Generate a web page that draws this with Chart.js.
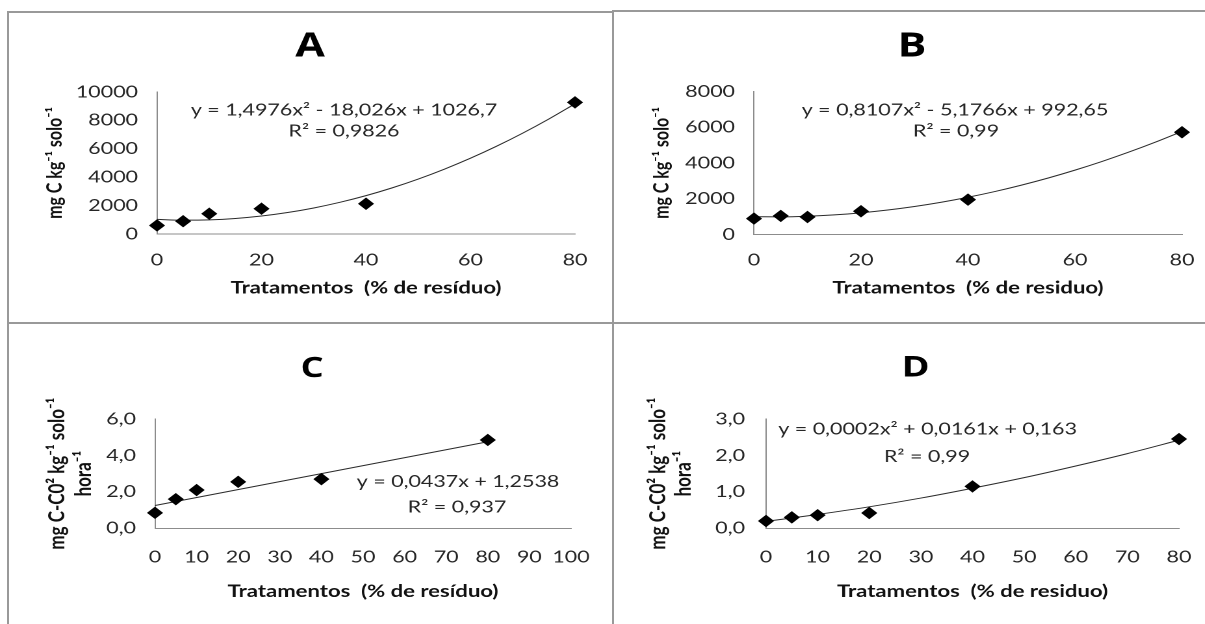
<!DOCTYPE html>
<html>
<head>
<meta charset="utf-8">
<script src="https://cdn.jsdelivr.net/npm/chart.js@4.4.1/dist/chart.umd.min.js"></script>
<style>
html,body{margin:0;padding:0;background:#fff;width:1205px;height:624px;overflow:hidden;position:relative;}
.wrap{position:absolute;transform-origin:0 0;}
.wrap canvas{display:block;}
.line{position:absolute;background:#999;z-index:5;}
</style>
</head>
<body>
<div class="wrap" id="wA"><canvas id="cA"></canvas></div>
<div class="wrap" id="wB"><canvas id="cB"></canvas></div>
<div class="wrap" id="wC"><canvas id="cC"></canvas></div>
<div class="wrap" id="wD"><canvas id="cD"></canvas></div>
<div class="line" style="left:7px;top:11px;width:606px;height:2px;"></div>
<div class="line" style="left:612px;top:10px;width:593px;height:2px;"></div>
<div class="line" style="left:7px;top:11px;width:2px;height:613px;"></div>
<div class="line" style="left:612px;top:10px;width:2px;height:614px;"></div>
<div class="line" style="left:7px;top:322px;width:1198px;height:2px;"></div>
<script>
// ---------- data ----------
const xTreat = [0, 5, 10, 20, 40, 80];
const yA = [600, 900, 1430, 1780, 2130, 9270];
const yB = [890, 1040, 980, 1300, 1950, 5720];
const yC = [0.85, 1.6, 2.1, 2.55, 2.7, 4.85];
const yD = [0.2, 0.3, 0.36, 0.42, 1.15, 2.45];

const trendXAB = [0, 5, 10, 15, 20, 25, 30, 35, 40, 45, 50, 55, 60, 65, 70, 75, 80];
const trendA = [1027, 974, 996, 1093, 1265, 1512, 1834, 2230, 2702, 3248, 3869, 4566, 5337, 6182, 7103, 8099, 9169];
const trendB = [993, 987, 1022, 1097, 1213, 1370, 1567, 1805, 2083, 2401, 2761, 3160, 3601, 4081, 4603, 5165, 5767];
const trendXC = [0, 80];
const trendC = [1.25, 4.75];
const trendXD = [0, 10, 20, 30, 40, 50, 60, 70, 80];
const trendD = [0.19, 0.38, 0.59, 0.83, 1.10, 1.39, 1.71, 2.05, 2.42];

const panelTitles = ['A', 'B', 'C', 'D'];
const eqA = ['y = 1,4976x² - 18,026x + 1026,7', 'R² = 0,9826'];
const eqB = ['y = 0,8107x² - 5,1766x + 992,65', 'R² = 0,99'];
const eqC = ['y = 0,0437x + 1,2538', 'R² = 0,937'];
const eqD = ['y = 0,0002x² + 0,0161x + 0,163', 'R² = 0,99'];

const xTickLabelsAB = ['0', '20', '40', '60', '80'];
const xTickLabelsC = ['0', '10', '20', '30', '40', '50', '60', '70', '80', '90', '100'];
const xTickLabelsD = ['0', '10', '20', '30', '40', '50', '60', '70', '80'];
const yTickLabelsA = ['0', '2000', '4000', '6000', '8000', '10000'];
const yTickLabelsB = ['0', '2000', '4000', '6000', '8000'];
const yTickLabelsC = ['0,0', '2,0', '4,0', '6,0'];
const yTickLabelsD = ['0,0', '1,0', '2,0', '3,0'];

const xTitleAccent = 'Tratamentos  (% de resíduo)';
const xTitlePlain = 'Tratamentos  (% de residuo)';
const yTitleAB = 'mg C kg⁻¹ solo⁻¹';
const yTitleCD = ['mg C-C0² kg⁻¹ solo⁻¹', 'hora⁻¹'];

// ---------- layout (reference pixels, panel-local) ----------
const FONT = 'Lato, "Open Sans", sans-serif';
const TITLE_FONT = '"Liberation Sans Narrow", "Open Sans", Lato, sans-serif';
const panels = [
  {el: 'A', left: 0, top: 0, w: 612, h: 322, cw: 471,
   xs: xTreat, ys: yA, tx: trendXAB, ty: trendA, title: panelTitles[0], eq: eqA,
   xMax: 80, xStep: 20, xLabels: xTickLabelsAB, yMax: 10000, yStep: 2000, yLabels: yTickLabelsA,
   xTitle: xTitleAccent, yTitle: yTitleAB,
   area: {l: 157, r: 575, t: 92, b: 234}, titleX: 310, titleY: 47, titleSize: 33,
   yTitleX: 55, yTitleSize: 16, yTitleLH: 1.0, yTickPad: 19,
   xTickY: 260, xTitleY: 288, eqPos: [[344, 110], [344, 131]]},
  {el: 'B', left: 612, top: 0, w: 593, h: 322, cw: 456,
   xs: xTreat, ys: yB, tx: trendXAB, ty: trendB, title: panelTitles[1], eq: eqB,
   xMax: 80, xStep: 20, xLabels: xTickLabelsAB, yMax: 8000, yStep: 2000, yLabels: yTickLabelsB,
   xTitle: xTitlePlain, yTitle: yTitleAB,
   area: {l: 142, r: 570, t: 91.5, b: 234.5}, titleX: 300, titleY: 47, titleSize: 33,
   yTitleX: 50, yTitleSize: 16, yTitleLH: 1.0, yTickPad: 19,
   xTickY: 260, xTitleY: 288, eqPos: [[343, 110], [344, 131]]},
  {el: 'C', left: 0, top: 322, w: 612, h: 302, cw: 471,
   xs: xTreat, ys: yC, tx: trendXC, ty: trendC, title: panelTitles[2], eq: eqC,
   xMax: 100, xStep: 10, xLabels: xTickLabelsC, yMax: 6, yStep: 2, yLabels: yTickLabelsC,
   xTitle: xTitleAccent, yTitle: yTitleCD,
   area: {l: 155, r: 571, t: 97, b: 206.3}, titleX: 312, titleY: 47, titleSize: 28,
   yTitleX: 57, yTitleSize: 17, yTitleLH: 1.2, yTickPad: 19,
   xTickY: 235.3, xTitleY: 269.7, eqPos: [[458, 159.7], [457, 185]]},
  {el: 'D', left: 612, top: 322, w: 593, h: 302, cw: 456,
   xs: xTreat, ys: yD, tx: trendXD, ty: trendD, title: panelTitles[3], eq: eqD,
   xMax: 80, xStep: 10, xLabels: xTickLabelsD, yMax: 3, yStep: 1, yLabels: yTickLabelsD,
   xTitle: xTitlePlain, yTitle: yTitleCD,
   area: {l: 154, r: 567, t: 97, b: 206.3}, titleX: 303.6, titleY: 46, titleSize: 29,
   yTitleX: 46, yTitleSize: 17, yTitleLH: 1.15, yTickPad: 21,
   xTickY: 235.3, xTitleY: 269.7, eqPos: [[315.6, 107.3], [315, 134.7]]}
];

function makeEqPlugin(p) {
  return {
    id: 'eqText' + p.el,
    afterDatasetsDraw(chart) {
      const ctx = chart.ctx;
      ctx.save();
      ctx.font = '16.5px ' + FONT;
      ctx.fillStyle = '#262626';
      ctx.textAlign = 'center';
      ctx.textBaseline = 'middle';
      p.eq.forEach((t, i) => ctx.fillText(t, p.eqPos[i][0] / p.s, p.eqPos[i][1]));
      ctx.restore();
    }
  };
}

function build(p) {
  const s = p.w / p.cw;
  p.s = s;
  const wrap = document.getElementById('w' + p.el);
  wrap.style.left = p.left + 'px';
  wrap.style.top = p.top + 'px';
  wrap.style.width = p.cw + 'px';
  wrap.style.height = p.h + 'px';
  wrap.style.transform = 'scaleX(' + s + ')';

  const L = p.area.l / s, R = p.area.r / s;
  const padL = Math.max(0, 2 * p.titleX / s - R);
  const tickFont = {family: FONT, size: 16.5, lineHeight: 1.2};
  const yLH = p.yTitleSize * p.yTitleLH;

  const pts = p.xs.map((x, i) => ({x: x, y: p.ys[i]}));
  const trend = p.tx.map((x, i) => ({x: x, y: p.ty[i]}));

  new Chart(document.getElementById('c' + p.el), {
    type: 'scatter',
    data: {
      datasets: [
        {data: pts, pointStyle: 'rectRot', pointRadius: 5.5, pointHoverRadius: 5.5,
         backgroundColor: '#000', borderColor: '#000', borderWidth: 1, clip: false, order: 0},
        {data: trend, showLine: true, borderColor: '#2a2a2a', borderWidth: 1, pointRadius: 0,
         pointHoverRadius: 0, fill: false, tension: 0.4, cubicInterpolationMode: 'monotone',
         clip: false, order: 1}
      ]
    },
    options: {
      responsive: true, maintainAspectRatio: false, animation: false, devicePixelRatio: 2, events: [],
      layout: {padding: {left: padL, right: p.cw - R, top: 0, bottom: 0}},
      plugins: {
        legend: {display: false},
        tooltip: {enabled: false},
        title: {display: true, text: p.title, color: '#000',
          font: {family: TITLE_FONT, size: p.titleSize, weight: 'bold', lineHeight: 1.2},
          padding: {top: p.titleY - p.titleSize * 0.6, bottom: p.area.t - p.titleY - p.titleSize * 0.6}}
      },
      scales: {
        x: {
          type: 'linear', min: 0, max: p.xMax,
          ticks: {stepSize: p.xStep, autoSkip: false, maxRotation: 0, font: tickFont, color: '#262626',
            padding: p.xTickY - p.area.b - 9.9,
            callback: (v, i) => p.xLabels[i]},
          grid: {drawOnChartArea: false, drawTicks: false},
          border: {display: true, color: '#8c8c8c', width: 1},
          title: {display: true, text: p.xTitle, color: '#111',
            font: {family: FONT, size: 17, weight: 'bold', lineHeight: 1.2},
            padding: {top: 0, bottom: p.h - p.xTitleY - 10.2}},
          afterFit: sc => { sc.height = p.h - p.area.b; sc.paddingLeft = 0; sc.paddingRight = 0; }
        },
        y: {
          type: 'linear', min: 0, max: p.yMax,
          ticks: {stepSize: p.yStep, autoSkip: false, font: tickFont, color: '#262626',
            padding: p.yTickPad / s,
            callback: (v, i) => p.yLabels[i]},
          grid: {drawOnChartArea: false, drawTicks: false},
          border: {display: true, color: '#8c8c8c', width: 1},
          title: {display: true, text: p.yTitle, color: '#111',
            font: {family: FONT, size: p.yTitleSize, weight: 'bold', lineHeight: p.yTitleLH},
            padding: {top: p.yTitleX / s - padL - yLH / 2, bottom: 0}},
          afterFit: sc => { sc.width = L - padL; sc.paddingTop = 0; sc.paddingBottom = 0; }
        }
      }
    },
    plugins: [makeEqPlugin(p)]
  });
}

panels.forEach(build);
</script>
</body>
</html>
